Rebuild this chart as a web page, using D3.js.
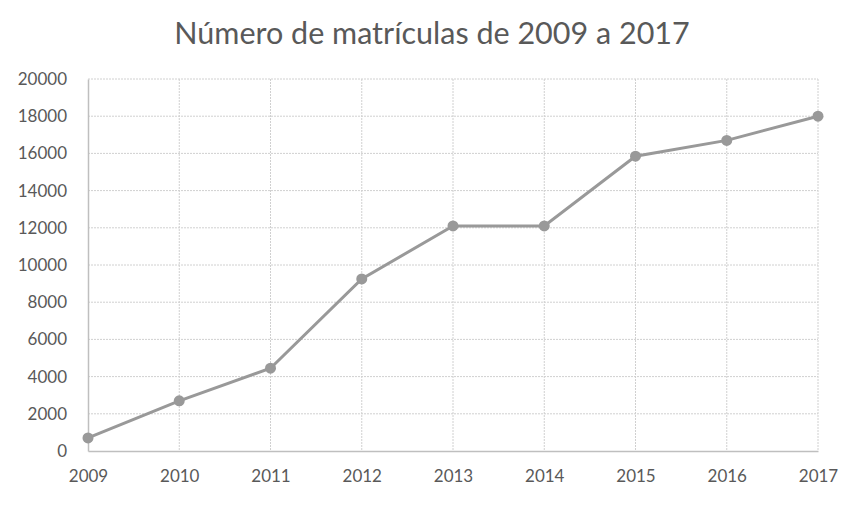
<!DOCTYPE html>
<html>
<head>
<meta charset="utf-8">
<script src="https://cdn.jsdelivr.net/npm/d3@7"></script>
<style>
  body { margin: 0; background: #fff; }
  text { font-family: Lato, "Open Sans", sans-serif; fill: #595959; }
</style>
</head>
<body>
<svg id="chart" width="855" height="506"></svg>
<script>
// data
const years = ["2009", "2010", "2011", "2012", "2013", "2014", "2015", "2016", "2017"];
const matriculas = [700, 2700, 4450, 9250, 12100, 12100, 15850, 16700, 18000];
const yTicks = [0, 2000, 4000, 6000, 8000, 10000, 12000, 14000, 16000, 18000, 20000];

const svg = d3.select("#chart");
// plot box (window.top is taken, so prefix these)
const plotLeft = 88, plotRight = 818, plotTop = 79, plotBottom = 451;

let x = d3.scalePoint().domain(years).range([plotLeft, plotRight]).padding(0);
let y = d3.scaleLinear().domain([0, 20000]).range([plotBottom, plotTop]);

// title
svg.append("text")
  .attr("x", 432).attr("y", 44)
  .attr("text-anchor", "middle")
  .attr("font-size", 30.5)
  .text("Número de matrículas de 2009 a 2017");

// horizontal grid
svg.append("g").selectAll("line")
  .data(yTicks.filter(d => d > 0))
  .join("line")
  .attr("x1", plotLeft).attr("x2", plotRight)
  .attr("y1", d => y(d)).attr("y2", d => y(d))
  .attr("stroke", "#d0d0d0").attr("stroke-width", 1)
  .attr("stroke-dasharray", "2,1");

// vertical grid
svg.append("g").selectAll("line")
  .data(years.slice(1))
  .join("line")
  .attr("x1", d => x(d)).attr("x2", d => x(d))
  .attr("y1", plotTop).attr("y2", plotBottom)
  .attr("stroke", "#d0d0d0").attr("stroke-width", 1)
  .attr("stroke-dasharray", "2,1");

// axes
const yAxis = svg.append("g")
  .attr("transform", `translate(${plotLeft},0)`)
  .call(d3.axisLeft(y).tickValues(yTicks).tickSize(0).tickPadding(21).tickFormat(d3.format("d")));
yAxis.select(".domain").attr("stroke", "#bfbfbf").attr("stroke-width", 1.5);
yAxis.selectAll("text").attr("font-size", 17).attr("fill", "#595959");

const xAxis = svg.append("g")
  .attr("transform", `translate(0,${plotBottom})`)
  .call(d3.axisBottom(x).tickSize(0).tickPadding(19));
xAxis.select(".domain").attr("stroke", "#bfbfbf").attr("stroke-width", 1.5);
xAxis.selectAll("text").attr("font-size", 17).attr("fill", "#595959");

// line + markers
let lineGen = d3.line()
  .x((d, i) => x(years[i]))
  .y(d => y(d));

svg.append("path")
  .datum(matriculas)
  .attr("d", lineGen)
  .attr("fill", "none")
  .attr("stroke", "#999999")
  .attr("stroke-width", 3);

svg.append("g").selectAll("circle")
  .data(matriculas)
  .join("circle")
  .attr("cx", (d, i) => x(years[i]))
  .attr("cy", d => y(d))
  .attr("r", 5.5)
  .attr("fill", "#999999");
</script>
</body>
</html>
